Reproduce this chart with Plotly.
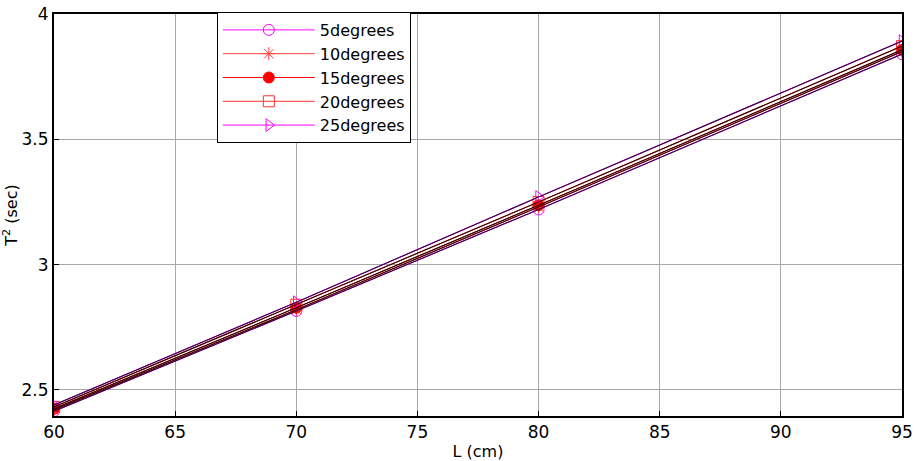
import plotly.graph_objects as go

L_cm = [60, 70, 80, 95]
series_names = ["5degrees", "10degrees", "15degrees", "20degrees", "25degrees"]
T2_5 = [2.415, 2.815, 3.22, 3.84]
T2_10 = [2.42, 2.82, 3.23, 3.85]
T2_15 = [2.425, 2.828, 3.237, 3.857]
T2_20 = [2.432, 2.84, 3.25, 3.872]
T2_25 = [2.44, 2.85, 3.27, 3.892]
x_ticks = [60, 65, 70, 75, 80, 85, 90, 95]
y_ticks = [2.5, 3, 3.5, 4]

all_series = [T2_5, T2_10, T2_15, T2_20, T2_25]
colors = ["#ff00ff", "#ff4040", "#ff0000", "#ff3030", "#ff00ff"]
dark = ["#3c0050", "#400000", "#300000", "#400000", "#3c0050"]
symbols = ["circle-open", "asterisk-open", "circle", "square-open", "triangle-right-open"]
FONT = "DejaVu Sans, Arial"

fig = go.Figure()
for name, ys, c, s in zip(series_names, all_series, colors, symbols):
    fig.add_trace(go.Scatter(x=L_cm, y=ys, mode="lines+markers", name=name,
                             line=dict(color=c, width=1),
                             marker=dict(symbol=s, size=11, color=c, line=dict(color=c, width=1))))
for ys, d in zip(all_series, dark):
    fig.add_trace(go.Scatter(x=L_cm, y=ys, mode="lines", showlegend=False,
                             line=dict(color=d, width=1.2), hoverinfo="skip"))

axis_common = dict(showline=True, linecolor="black", linewidth=2, mirror=True,
                   ticks="inside", ticklen=5, tickcolor="black", automargin=False,
                   showgrid=True, gridcolor="#a8a8a8", gridwidth=1, zeroline=False,
                   tickfont=dict(family=FONT, size=17, color="black"))
fig.update_xaxes(range=[60, 95], tickvals=x_ticks, **axis_common,
                 title=dict(text="L (cm)", font=dict(family=FONT, size=16, color="black"), standoff=8))
fig.update_yaxes(range=[2.396, 4.0], tickvals=y_ticks, ticktext=["2.5", "3", "3.5", "4"], **axis_common,
                 title=dict(text="T<sup>2</sup> (sec)", font=dict(family=FONT, size=16, color="black"), standoff=6))
fig.update_layout(width=916, height=461, plot_bgcolor="white", paper_bgcolor="white",
                  margin=dict(l=54, r=14, t=14, b=45, autoexpand=False),
                  legend=dict(x=0.192, y=1.005, xanchor="left", yanchor="top",
                              bgcolor="white", bordercolor="black", borderwidth=1,
                              font=dict(family=FONT, size=16, color="black"),
                              tracegroupgap=0, itemwidth=92))
fig.write_html("out.html")
